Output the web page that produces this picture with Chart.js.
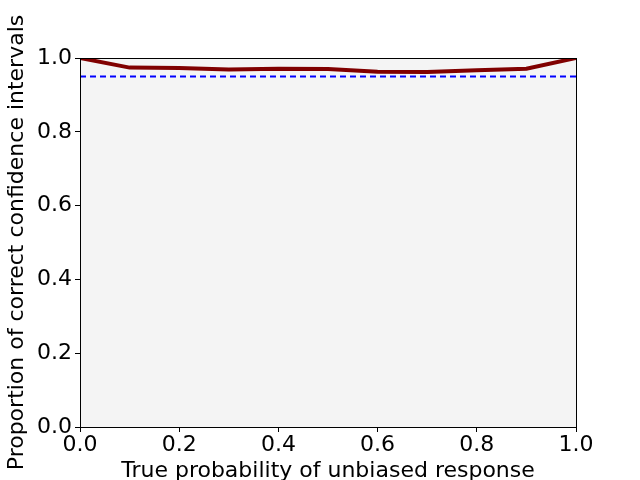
<!DOCTYPE html>
<html>
<head>
<meta charset="utf-8">
<script src="https://cdn.jsdelivr.net/npm/chart.js@4"></script>
<style>
  html, body { margin: 0; padding: 0; background: #fff; overflow: hidden; }
  #wrap { width: 640px; height: 480px; }
</style>
</head>
<body>
<div id="wrap"><canvas id="coverageChart"></canvas></div>
<script>
// True probability values (x) and proportion of correct intervals (y)
const trueProbs = [0.0, 0.1, 0.2, 0.3, 0.4, 0.5, 0.6, 0.7, 0.8, 0.9, 1.0];
const coverage = [1.0, 0.974, 0.973, 0.969, 0.971, 0.970, 0.963, 0.962, 0.967, 0.971, 1.0];
const nominalLevel = 0.95;
const tickValues = [0, 0.2, 0.4, 0.6, 0.8, 1.0];

// Fill plot area gray and draw a box round it
const frame = {
    id: 'frame',
    beforeDraw(chart) {
        const { ctx, chartArea: a } = chart;
        ctx.save();
        ctx.fillStyle = '#f4f4f4';
        ctx.fillRect(a.left, a.top, a.right - a.left, a.bottom - a.top);
        ctx.restore();
    },
    afterDraw(chart) {
        const { ctx, chartArea: a } = chart;
        ctx.save();
        ctx.strokeStyle = '#000';
        ctx.lineWidth = 1;
        ctx.strokeRect(Math.round(a.left) + 0.5, Math.round(a.top) + 0.5,
            Math.round(a.right - a.left), Math.round(a.bottom - a.top));
        ctx.restore();
    }
};

const font = { family: 'DejaVu Sans', size: 22 };

const ctx = document.getElementById('coverageChart').getContext('2d');
new Chart(ctx, {
    type: 'line',
    data: {
        datasets: [
            {
                label: 'Coverage',
                data: trueProbs.map((x, i) => ({ x: x, y: coverage[i] })),
                borderColor: '#800000',
                borderWidth: 4,
                pointRadius: 0,
                fill: false,
                tension: 0,
                clip: 0
            },
            {
                label: 'Nominal',
                data: [{ x: trueProbs[0], y: nominalLevel }, { x: trueProbs[trueProbs.length - 1], y: nominalLevel }],
                borderColor: '#0000ff',
                borderWidth: 2,
                borderDash: [6, 4],
                pointRadius: 0,
                fill: false,
                clip: 0
            }
        ]
    },
    plugins: [frame],
    options: {
        responsive: true,
        maintainAspectRatio: false,
        animation: false,
        layout: { padding: { top: 58, right: 64, left: 0, bottom: -4 } },
        plugins: {
            legend: { display: false },
            tooltip: { enabled: false }
        },
        scales: {
            x: {
                type: 'linear',
                min: 0,
                max: 1,
                afterBuildTicks: axis => { axis.ticks = tickValues.map(v => ({ value: v })); },
                afterFit: axis => { axis.height = 57; },
                grid: { drawOnChartArea: false, tickLength: 5, color: '#000' },
                border: { color: '#000' },
                ticks: {
                    color: '#000',
                    font: font,
                    padding: 0,
                    maxRotation: 0,
                    callback: v => v.toFixed(1)
                },
                title: {
                    display: true,
                    text: 'True probability of unbiased response',
                    color: '#000',
                    font: font,
                    padding: { top: 0, bottom: 0 }
                }
            },
            y: {
                type: 'linear',
                min: 0,
                max: 1,
                afterBuildTicks: axis => { axis.ticks = tickValues.map(v => ({ value: v })); },
                afterFit: axis => { axis.width = 80; },
                grid: { drawOnChartArea: false, tickLength: 5, color: '#000' },
                border: { color: '#000' },
                ticks: {
                    color: '#000',
                    font: font,
                    padding: 3,
                    callback: v => v.toFixed(1)
                },
                title: {
                    display: true,
                    text: 'Proportion of correct confidence intervals',
                    color: '#000',
                    font: font,
                    padding: { top: 4, bottom: 0 }
                }
            }
        }
    }
});
</script>
</body>
</html>
